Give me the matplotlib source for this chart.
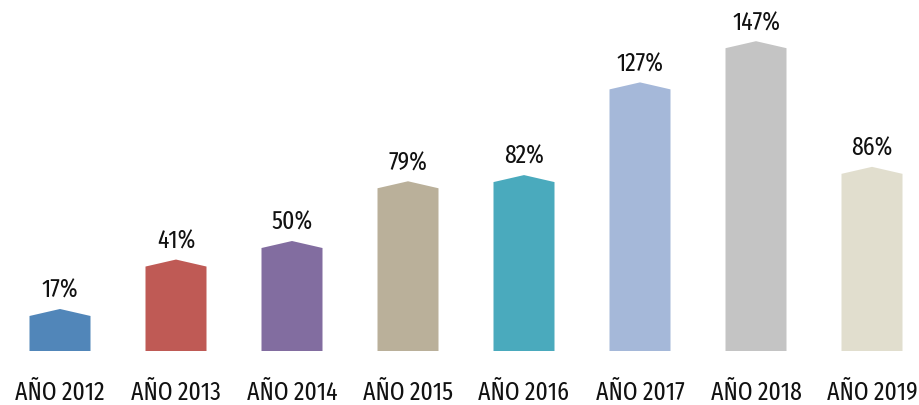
import matplotlib
matplotlib.use("Agg")
import matplotlib.pyplot as plt
from matplotlib.patches import Polygon

years = ["AÑO 2012", "AÑO 2013", "AÑO 2014", "AÑO 2015", "AÑO 2016", "AÑO 2017", "AÑO 2018", "AÑO 2019"]
values = [17, 41, 50, 79, 82, 127, 147, 86]
labels = ["17%", "41%", "50%", "79%", "82%", "127%", "147%", "86%"]
colors = ["#5186B9", "#BF5A55", "#826DA0", "#BAB09A", "#4AAABD", "#A5B8D9", "#C4C4C4", "#E1DECE"]

plt.rcParams['font.family'] = ['Fira Sans Extra Condensed', 'DejaVu Sans']

W, H = 919, 405
fig = plt.figure(figsize=(W / 100, H / 100), dpi=100)
base_px = 54
ax = fig.add_axes([0, base_px / H, 1, (H - base_px) / H])
pxper = 2.06  # pixels per percentage point
spacing = 116
ax.set_xlim(-60 / spacing, (W - 60) / spacing)
ax.set_ylim(0, (H - base_px) / pxper)
ax.set_axis_off()

half = 30.5 / spacing
cap = 7 / pxper
fs = 18.5
for i, (v, c, lab, yr) in enumerate(zip(values, colors, labels, years)):
    poly = Polygon([(i - half, 0), (i + half, 0), (i + half, v), (i, v + cap), (i - half, v)],
                   closed=True, facecolor=c, edgecolor='none')
    ax.add_patch(poly)
    ax.annotate(lab, (i, v + cap), xytext=(0, 8), textcoords='offset points',
                ha='center', va='baseline', fontsize=fs, color='#111111')
    ax.annotate(yr, (i, 0), xytext=(0, -35.5), textcoords='offset points',
                ha='center', va='baseline', fontsize=fs, color='#111111',
                annotation_clip=False)

fig.savefig("out.png", dpi=100)
